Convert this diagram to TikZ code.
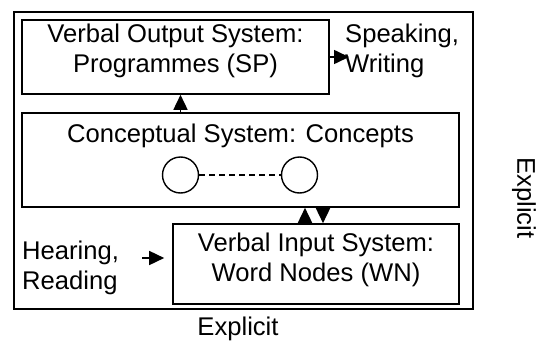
\documentclass[tikz,border=0pt]{standalone}
\usepackage{fontspec}
\setmainfont{Liberation Sans}
\usepackage{tikz}
\usetikzlibrary{arrows.meta,arrows}

\begin{document}
\begin{tikzpicture}[x=1pt, y=-1pt,
    box/.style = {draw, line width=1.6pt, inner sep=0pt},
    txt/.style = {inner sep=0pt, align=center, font=\fontsize{25.6}{29.5}\selectfont},
    concept/.style = {draw, circle, line width=1.4pt, minimum size=36pt, inner sep=0pt},
    arr/.style = {line width=1.6pt, -{Triangle[length=15pt,width=14pt]}},
]
\useasboundingbox (0,0) rectangle (546,340);

\node[box, minimum width=459pt, minimum height=297pt] (outer) at (243.5,160.5) {};
\node[box, minimum width=307pt, minimum height=74pt] (sp) at (175.5,57) {};
\node[box, minimum width=437pt, minimum height=94pt] (con) at (240.5,160) {};
\node[box, minimum width=286pt, minimum height=80pt] (inp) at (316,264) {};

\node[txt] (sptext) at (175.5,51) {Verbal Output System:\\Programmes (SP)};
\node[txt, anchor=base] (context) at (240.5,142) {Conceptual System: Concepts};
\node[txt] (inptext) at (316,260) {Verbal Input System:\\Word Nodes (WN)};
\node[txt, align=left, anchor=west] (speak) at (345,51) {Speaking,\\Writing};
\node[txt, align=left, anchor=west] (hear) at (22,268) {Hearing,\\Reading};
\node[txt, anchor=base] (explb) at (238,335) {Explicit};
\node[txt, rotate=-90] (explr) at (524,198) {Explicit};

\node[concept] (c1) at (180.5,175) {};
\node[concept] (c2) at (299.5,175) {};
\draw[line width=1.2pt, dash pattern=on 6pt off 4pt] (c1) -- (c2);

\coordinate (wnup) at (305,0);
\coordinate (wndown) at (323,0);
\coordinate (hr) at (142,258);

\draw[arr] (c1 |- con.north) -- (c1 |- sp.south);
\draw[arr, shorten >=-4pt] (sp.east) -- (sp.east -| speak.west);
\draw[arr] (inp.north -| wnup) -- (con.south -| wnup);
\draw[arr] (con.south -| wndown) -- (inp.north -| wndown);
\draw[arr, shorten >=8pt] (hr) -- (hr -| inp.west);
\end{tikzpicture}
\end{document}
